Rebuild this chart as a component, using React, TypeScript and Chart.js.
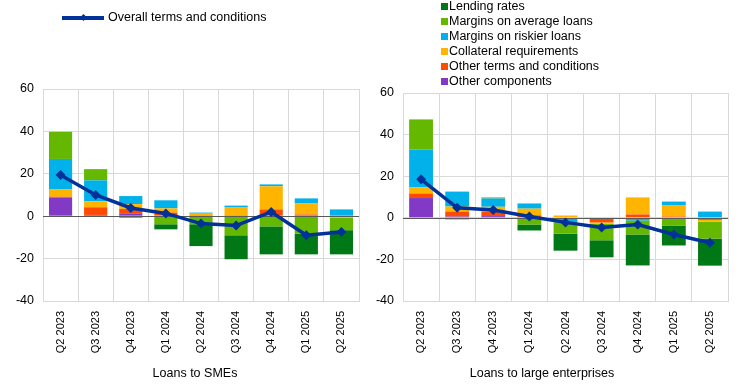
import React, { useEffect, useRef } from 'react';
import { Chart, registerables } from 'chart.js';

Chart.register(...registerables);

const categories = ['Q2 2023', 'Q3 2023', 'Q4 2023', 'Q1 2024', 'Q2 2024', 'Q3 2024', 'Q4 2024', 'Q1 2025', 'Q2 2025'];

const yTicks = [-40, -20, 0, 20, 40, 60];

const seriesNames = [
  'Lending rates',
  'Margins on average loans',
  'Margins on riskier loans',
  'Collateral requirements',
  'Other terms and conditions',
  'Other components',
];
const lineName = 'Overall terms and conditions';

// Loans to SMEs
const smeLending = [0, 0, 0, -2.4, -10.3, -11.3, -13.2, -9.8, -11.4];
const smeAverage = [12.8, 5.3, -0.8, -3.8, -3.8, -9.0, -4.8, -8.2, -6.0];
const smeRiskier = [14.2, 9.9, 3.8, 3.8, 0.5, 0.9, 0.9, 2.4, 3.2];
const smeCollateral = [3.6, 2.8, 2.3, 2.0, 0.7, 3.6, 10.9, 5.2, -0.6];
const smeOtherTerms = [0.5, 3.6, 2.3, 1.4, 0.5, 0.5, 3.2, 0.8, 0];
const smeOtherComp = [8.7, 0.6, 1.1, 0.3, 0, 0, 0, 0, 0];
const smeOverall = [19.4, 10.0, 3.9, 1.3, -3.5, -4.4, 2.0, -9.0, -7.4];

// Loans to large enterprises
const leLending = [0, 0, 0, -2.9, -8.2, -8.2, -14.9, -9.6, -13.0];
const leAverage = [14.5, -0.8, 0.5, -3.2, -5.5, -8.0, -6.7, -3.7, -8.2];
const leRiskier = [18.2, 7.2, 4.0, 2.5, -2.1, 0, -1.3, 1.9, 3.0];
const leCollateral = [2.9, 2.4, 2.4, 3.2, 1.1, -0.6, 8.2, 5.3, -0.8];
const leOtherTerms = [2.2, 2.4, 2.1, 1.2, 0, -2.2, 1.6, 0.6, -1.0];
const leOtherComp = [9.5, 0.6, 0.8, 0, 0, 0, 0, 0, 0];
const leOverall = [18.5, 4.8, 3.7, 0.6, -2.2, -4.7, -3.2, -8.0, -12.0];

const colors = ['#007816', '#65b800', '#00b1ea', '#ffb400', '#ff4b00', '#8139c6'];
const lineColor = '#003299';
const gridColor = '#d9d9d9';
const FONT = '"Liberation Sans", Arial, sans-serif';

const zeroLinePlugin = {
  id: 'zeroLine',
  beforeDatasetDraw(chart: any, args: any) {
    const ds = chart.data.datasets[args.index];
    if (ds.type !== 'line') return;
    const y = chart.scales.y.getPixelForValue(0);
    const { left, right } = chart.chartArea;
    const ctx = chart.ctx;
    ctx.save();
    ctx.strokeStyle = '#595959';
    ctx.lineWidth = 1;
    ctx.beginPath();
    ctx.moveTo(left, Math.round(y) + 0.5);
    ctx.lineTo(right, Math.round(y) + 0.5);
    ctx.stroke();
    ctx.restore();
  },
};

function buildConfig(series: number[][], overall: number[], axisWidth: number, pad: any) {
  // stacking order: bottom-up (other components first, lending rates last)
  const order = [5, 4, 3, 2, 1, 0];
  const barSets = order.map((i) => ({
    type: 'bar' as const,
    label: seriesNames[i],
    data: series[i],
    backgroundColor: colors[i],
    borderWidth: 0,
    stack: 's',
    order: 1,
    barPercentage: 0.66,
    categoryPercentage: 1,
  }));
  return {
    type: 'bar' as const,
    data: {
      labels: categories,
      datasets: [
        ...barSets,
        {
          type: 'line' as const,
          label: lineName,
          data: overall,
          borderColor: lineColor,
          backgroundColor: lineColor,
          borderWidth: 3.5,
          pointStyle: 'rectRot',
          pointRadius: 5,
          pointBorderWidth: 0,
          pointBackgroundColor: lineColor,
          order: 0,
          tension: 0,
        },
      ],
    },
    options: {
      responsive: false,
      animation: false,
      layout: { padding: pad },
      plugins: { legend: { display: false }, tooltip: { enabled: false }, title: { display: false } },
      scales: {
        x: {
          stacked: true,
          grid: { color: gridColor, drawTicks: false, offset: true },
          border: { color: gridColor },
          ticks: {
            color: '#000',
            font: { family: FONT, size: 11 },
            minRotation: 90,
            maxRotation: 90,
            autoSkip: false,
            padding: 10,
          },
          afterFit: (s: any) => {
            s.height = 88;
          },
        },
        y: {
          stacked: true,
          min: -40,
          max: 60,
          afterBuildTicks: (s: any) => {
            s.ticks = yTicks.map((v) => ({ value: v }));
          },
          grid: { color: gridColor, drawTicks: false },
          border: { color: gridColor },
          ticks: { color: '#000', font: { family: FONT, size: 12.5 }, padding: 9 },
          afterFit: (s: any) => {
            s.width = axisWidth;
          },
        },
      },
    },
    plugins: [zeroLinePlugin],
  };
}

function ChartCanvas(props: { series: number[][]; overall: number[]; width: number; axisWidth: number; pad: any; left: number }) {
  const ref = useRef<HTMLCanvasElement>(null);
  useEffect(() => {
    if (!ref.current) return;
    const chart = new Chart(ref.current, buildConfig(props.series, props.overall, props.axisWidth, props.pad) as any);
    return () => chart.destroy();
  }, []);
  return (
    <canvas
      ref={ref}
      width={props.width}
      height={389}
      style={{ position: 'absolute', left: props.left, top: 0, width: props.width, height: 389 }}
    />
  );
}

const textStyle: React.CSSProperties = {
  position: 'absolute',
  fontFamily: FONT,
  fontSize: '12.5px',
  lineHeight: '15px',
  color: '#000',
  whiteSpace: 'nowrap',
};

export default function App() {
  const smeSeries = [smeLending, smeAverage, smeRiskier, smeCollateral, smeOtherTerms, smeOtherComp];
  const leSeries = [leLending, leAverage, leRiskier, leCollateral, leOtherTerms, leOtherComp];
  return (
    <div style={{ position: 'absolute', left: 0, top: 0, width: 745, height: 389, background: '#fff', overflow: 'hidden' }}>
      <ChartCanvas series={smeSeries} overall={smeOverall} width={370} axisWidth={43} pad={{ left: 0, right: 11, top: 89, bottom: 0 }} left={0} />
      <ChartCanvas series={leSeries} overall={leOverall} width={375} axisWidth={33} pad={{ left: 0, right: 17, top: 93, bottom: 0 }} left={370} />
      {/* line legend */}
      <div style={{ position: 'absolute', left: 62, top: 16, width: 42, height: 3.5, background: lineColor }} />
      <div style={{ position: 'absolute', left: 81, top: 15, width: 5, height: 5, background: lineColor, transform: 'rotate(45deg)' }} />
      <div style={{ ...textStyle, left: 108, top: 10 }}>{lineName}</div>
      {/* bar legend */}
      {seriesNames.map((n, i) => (
        <React.Fragment key={n}>
          <div style={{ position: 'absolute', left: 441, top: 3 + i * 15, width: 7, height: 7, background: colors[i] }} />
          <div style={{ ...textStyle, left: 449, top: -1 + i * 15 }}>{n}</div>
        </React.Fragment>
      ))}
      {/* axis titles */}
      <div style={{ ...textStyle, left: 195, top: 366, transform: 'translateX(-50%)' }}>Loans to SMEs</div>
      <div style={{ ...textStyle, left: 542, top: 366, transform: 'translateX(-50%)' }}>Loans to large enterprises</div>
    </div>
  );
}
